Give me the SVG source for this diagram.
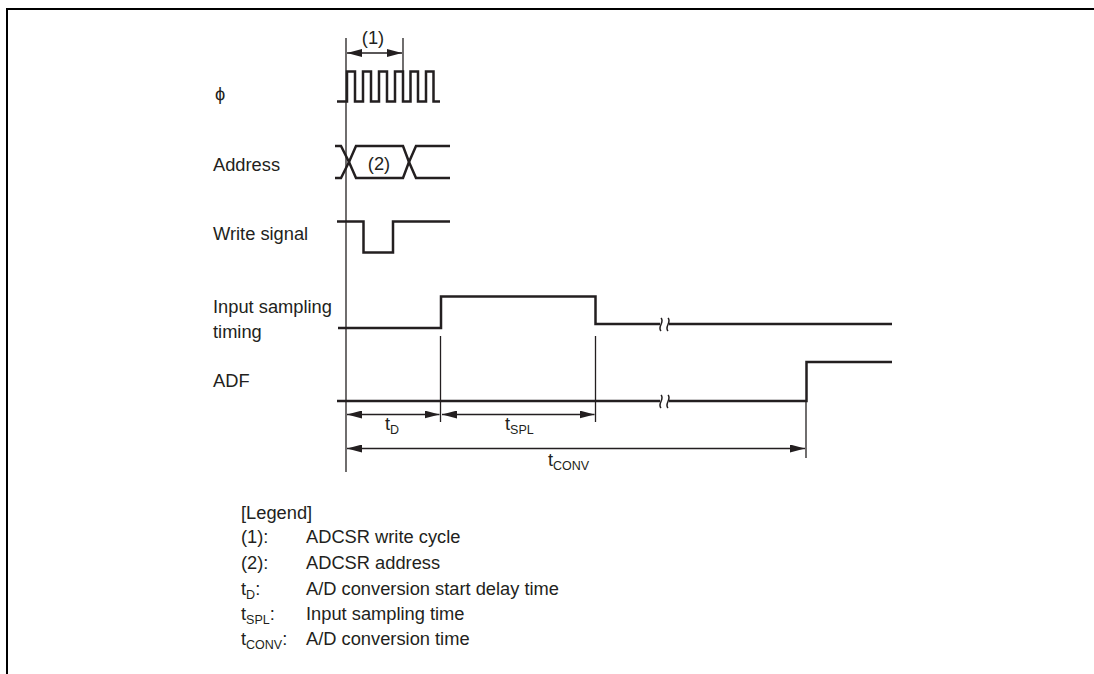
<svg xmlns="http://www.w3.org/2000/svg" width="1094" height="674" viewBox="0 0 1094 674">
<style>
.t{font-family:"Liberation Sans",Arial,sans-serif;font-size:18.3px;fill:#231f20}
.s{font-size:12.5px}
.sig{fill:none;stroke:#231f20;stroke-width:2.5;stroke-linejoin:miter}
.ref{fill:none;stroke:#231f20;stroke-width:1.3}
.arr{fill:none;stroke:#231f20;stroke-width:1.5;marker-start:url(#ah);marker-end:url(#ah)}
.brk{fill:none;stroke:#231f20;stroke-width:1.5}
</style>
<defs>
<marker id="ah" viewBox="0 0 15 8" refX="15" refY="4" markerWidth="15" markerHeight="8" markerUnits="userSpaceOnUse" orient="auto-start-reverse">
<path d="M0,0 L15,4 L0,8 Z" fill="#231f20"/>
</marker>
</defs>
<rect width="1094" height="674" fill="#fff"/>
<path d="M7,674 V9 H1094" fill="none" stroke="#000" stroke-width="2"/>

<g id="labels">
<text class="t" x="215" y="100">ϕ</text>
<text class="t" x="213" y="171">Address</text>
<text class="t" x="213" y="240">Write signal</text>
<text class="t" x="213" y="313">Input sampling</text>
<text class="t" x="213" y="338">timing</text>
<text class="t" x="213" y="387">ADF</text>
</g>

<g id="clock">
<path class="sig" d="M337,101.5 H347 V71.5 H355 V101.5 H363 V71.5 H371 V101.5 H379 V71.5 H387 V101.5 H395 V71.5 H403 V101.5 H410.5 V71.5 H418 V101.5 H426 V71.5 H433.5 V101.5 H440"/>
</g>

<g id="address">
<path class="sig" d="M335,146 H341 L349,162 L356,178 H403 L409,162 L416,146 H450"/>
<path class="sig" d="M335,178 H341 L349,162 L356,146 H403 L409,162 L416,178 H450"/>
<text class="t" x="379" y="170" text-anchor="middle">(2)</text>
</g>

<g id="write">
<path class="sig" d="M337,221.5 H363.5 V252.5 H393 V221.5 H450"/>
</g>

<g id="sampling">
<path class="sig" d="M338,328 H441 V296.5 H595.5 V324 H660"/>
<path class="sig" d="M669,324 H892"/>
<path class="brk" d="M661,318 C665,322 657,327 661,331"/>
<path class="brk" d="M668,318 C672,322 664,327 668,331"/>
</g>

<g id="adf">
<path class="sig" d="M337,401 H660"/>
<path class="sig" d="M669,401 H806.5 V362 H892"/>
<path class="brk" d="M661,395 C665,399 657,404 661,408"/>
<path class="brk" d="M668,395 C672,399 664,404 668,408"/>
</g>

<g id="connectors">
<path class="ref" d="M346,38 V472"/>
<path class="ref" d="M403,38 V73"/>
<path class="ref" d="M440.5,336 V422"/>
<path class="ref" d="M595.5,336 V422"/>
<path class="ref" d="M806,401 V458"/>
<path class="arr" d="M347,53 H402"/>
<path class="arr" d="M347,414.5 H439.5"/>
<path class="arr" d="M442,414.5 H594.5"/>
<path class="arr" d="M347,448.5 H805"/>
<text class="t" x="373" y="44" text-anchor="middle">(1)</text>
<text class="t" x="385" y="430">t<tspan class="s" dy="4">D</tspan></text>
<text class="t" x="505" y="430">t<tspan class="s" dy="4">SPL</tspan></text>
<text class="t" x="548" y="466">t<tspan class="s" dy="4">CONV</tspan></text>
</g>

<g id="legend">
<text class="t" x="241" y="519">[Legend]</text>
<text class="t" x="241" y="543">(1):</text>
<text class="t" x="306" y="543">ADCSR write cycle</text>
<text class="t" x="241" y="569">(2):</text>
<text class="t" x="306" y="569">ADCSR address</text>
<text class="t" x="241" y="595">t<tspan class="s" dy="4">D</tspan><tspan dy="-4">:</tspan></text>
<text class="t" x="306" y="595">A/D conversion start delay time</text>
<text class="t" x="241" y="620">t<tspan class="s" dy="4">SPL</tspan><tspan dy="-4">:</tspan></text>
<text class="t" x="306" y="620">Input sampling time</text>
<text class="t" x="241" y="645">t<tspan class="s" dy="4">CONV</tspan><tspan dy="-4">:</tspan></text>
<text class="t" x="306" y="645">A/D conversion time</text>
</g>
</svg>
